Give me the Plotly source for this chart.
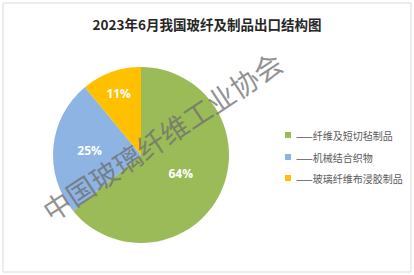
import plotly.graph_objects as go

title = "2023年6月我国玻纤及制品出口结构图"
categories = ["纤维及短切毡制品", "机械结合织物", "玻璃纤维布浸胶制品"]
shares = [64, 25, 11]
colors = ["#9BBB59", "#8DB4E2", "#FFC000"]
watermark = "中国玻璃纤维工业协会"

W, H = 414, 275

fig = go.Figure()
fig.add_trace(go.Pie(
    labels=categories,
    values=shares,
    sort=False,
    direction="clockwise",
    rotation=0,
    marker=dict(colors=colors, line=dict(width=0)),
    texttemplate="%{value}%",
    textposition="inside",
    insidetextorientation="horizontal",
    textfont=dict(family="Open Sans", size=12, color="white", weight="bold"),
    domain=dict(x=[53 / W, 229 / W], y=[(H - 243) / H, (H - 67) / H]),
    showlegend=False,
    hoverinfo="skip",
))

shapes = [dict(type="rect", xref="paper", yref="paper",
               x0=3 / W, x1=411 / W, y0=(H - 272) / H, y1=(H - 3) / H,
               line=dict(color="#D9D9D9", width=1), fillcolor="rgba(0,0,0,0)", layer="below")]
annotations = []
row_y = [135, 157, 178]
for cat, col, yy in zip(categories, colors, row_y):
    shapes.append(dict(type="rect", xref="paper", yref="paper",
                       x0=285 / W, x1=291 / W, y0=(H - yy - 3) / H, y1=(H - yy + 3) / H,
                       line=dict(width=0), fillcolor=col))
    annotations.append(dict(text="——" + cat, xref="paper", yref="paper",
                            x=294 / W, y=(H - yy) / H, xanchor="left", yanchor="middle",
                            showarrow=False,
                            font=dict(family="Noto Sans CJK SC", size=10, color="#595959")))

annotations.append(dict(text=watermark, xref="paper", yref="paper",
                        x=162 / W, y=(H - 136) / H, xanchor="center", yanchor="middle",
                        showarrow=False, textangle=-33.4,
                        font=dict(family="Noto Sans CJK SC", size=28, color="rgba(110,110,110,0.75)")))

fig.update_layout(
    width=W, height=H,
    margin=dict(l=0, r=0, t=0, b=0),
    paper_bgcolor="white",
    plot_bgcolor="white",
    title=dict(text=title, x=0.5, xanchor="center", y=(H - 25) / H, yanchor="middle",
               font=dict(family="Noto Sans CJK SC", size=13.5, color="#262626", weight="bold")),
    shapes=shapes,
    annotations=annotations,
)

fig.write_html("out.html")
